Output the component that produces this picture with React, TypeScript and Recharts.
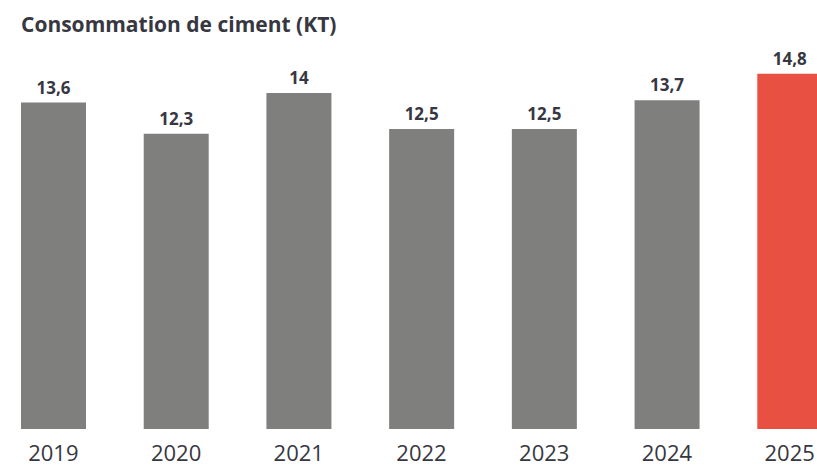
import { Bar, BarChart, Cell, LabelList, XAxis, YAxis } from 'recharts'

const years = ['2019', '2020', '2021', '2022', '2023', '2024', '2025']
const consumption = [13.6, 12.3, 14, 12.5, 12.5, 13.7, 14.8]
const highlightYear = '2025'

const grey = '#7f7f7d'
const red = '#e85142'
const textColor = '#373741'
const font = '"Open Sans", sans-serif'

const chartData = years.map((year, i) => ({ year, value: consumption[i] }))

const formatValue = (v: unknown) => String(v).replace('.', ',')

export default function App() {
  return (
    <div
      style={{
        position: 'absolute',
        left: 0,
        top: 0,
        width: 817,
        height: 466,
        overflow: 'hidden',
        background: '#fff',
        fontFamily: font,
      }}
    >
      <div
        style={{
          position: 'absolute',
          left: 21,
          top: 10,
          fontSize: 21,
          fontWeight: 700,
          color: textColor,
          lineHeight: '28px',
          whiteSpace: 'nowrap',
        }}
      >
        Consommation de ciment (KT)
      </div>
      <div style={{ position: 'absolute', left: -8, top: 0 }}>
        <BarChart
          width={859}
          height={466}
          data={chartData}
          margin={{ top: 45, right: 0, left: 0, bottom: 0 }}
        >
          <XAxis
            dataKey="year"
            interval={0}
            axisLine={false}
            tickLine={false}
            height={37}
            tickMargin={10}
            tick={{ fill: textColor, fontSize: 22, fontFamily: font }}
          />
          <YAxis hide domain={[0, 16]} />
          <Bar dataKey="value" barSize={65} isAnimationActive={false}>
            {chartData.map((d) => (
              <Cell key={d.year} fill={d.year === highlightYear ? red : grey} />
            ))}
            <LabelList
              dataKey="value"
              position="top"
              offset={9}
              formatter={formatValue}
              style={{ fill: textColor, fontSize: 17, fontWeight: 700, fontFamily: font }}
            />
          </Bar>
        </BarChart>
      </div>
    </div>
  )
}
